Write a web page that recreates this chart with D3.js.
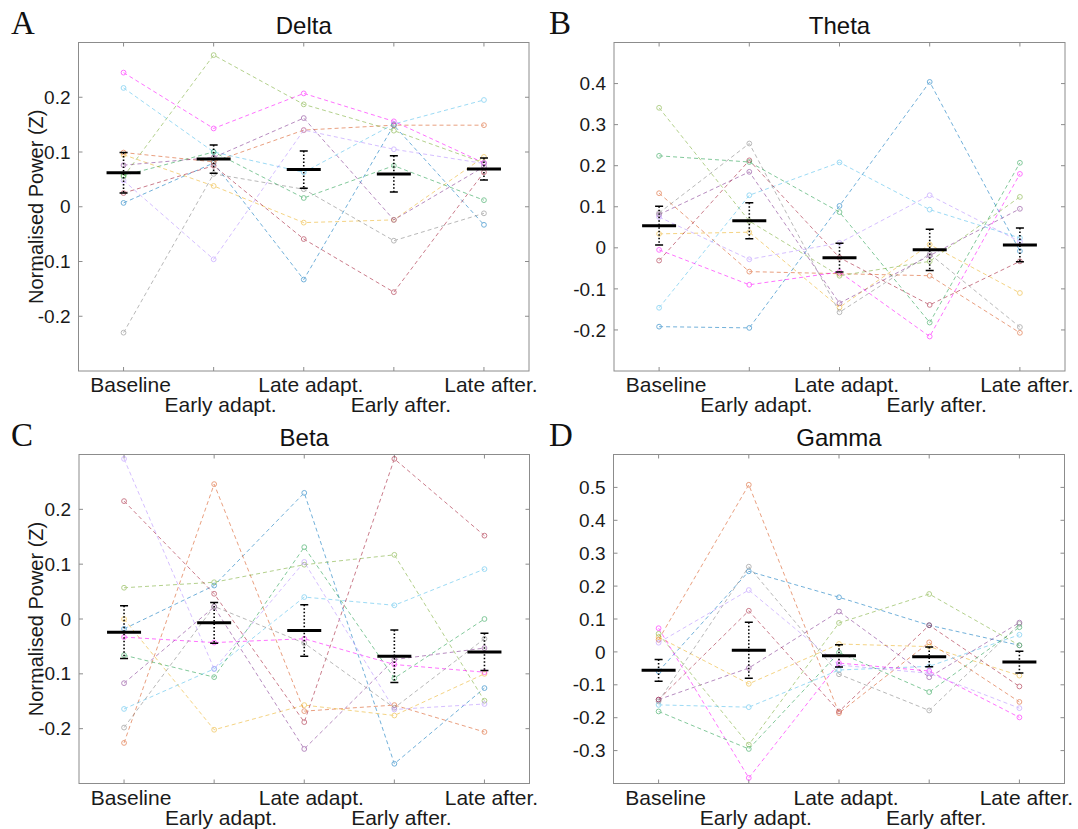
<!DOCTYPE html>
<html>
<head>
<meta charset="utf-8">
<script src="https://cdn.jsdelivr.net/npm/d3@7"></script>
<style>
  body { margin: 0; background: #fff; }
  svg { display: block; font-family: "Liberation Sans", Arial, sans-serif; }
</style>
</head>
<body>
<svg width="1078" height="829"></svg>
<script>
// conditions on the x axis
const conditions = ["Baseline", "Early adapt.", "Late adapt.", "Early after.", "Late after."];

// one colour per subject
const subjectColors = ["#0072BD", "#D95319", "#EDB120", "#7E2F8E", "#77AC30", "#4DBEEE",
                       "#A2142F", "#FF00FF", "#808080", "#B58CFF", "#1E9E4A"];

// subject values, one row per subject (same order as the colours)
const delta = [
  [0.007, 0.080, -0.133, 0.149, -0.033],
  [0.099, 0.082, 0.140, 0.149, 0.149],
  [0.095, 0.038, -0.029, -0.024, 0.091],
  [0.076, 0.090, 0.162, -0.024, 0.073],
  [0.055, 0.277, 0.187, 0.139, 0.080],
  [0.217, 0.100, 0.063, 0.151, 0.195],
  [0.025, 0.075, -0.059, -0.156, 0.063],
  [0.245, 0.143, 0.207, 0.156, 0.080],
  [-0.230, 0.060, 0.032, -0.062, -0.012],
  [0.048, -0.096, 0.140, 0.105, 0.079],
  [0.057, 0.100, 0.016, 0.075, 0.012]
];
const theta = [
  [-0.192, -0.195, 0.102, 0.404, -0.008],
  [0.133, -0.058, -0.063, -0.068, -0.207],
  [0.034, 0.038, -0.145, 0.008, -0.110],
  [0.081, 0.185, -0.135, -0.019, 0.095],
  [0.341, 0.065, -0.068, -0.033, 0.124],
  [-0.146, 0.128, 0.208, 0.093, 0.024],
  [-0.031, 0.213, -0.024, -0.139, -0.033],
  [-0.005, -0.090, -0.059, -0.216, 0.180],
  [0.085, 0.254, -0.157, -0.015, -0.193],
  [0.075, -0.028, 0.012, 0.128, 0.015],
  [0.224, 0.209, 0.087, -0.182, 0.207]
];
const beta = [
  [-0.018, 0.061, 0.230, -0.264, -0.126],
  [-0.226, 0.246, -0.168, -0.157, -0.206],
  [0.000, -0.202, -0.157, -0.176, -0.100],
  [-0.117, 0.022, -0.237, -0.074, -0.053],
  [0.057, 0.067, 0.099, 0.117, -0.149],
  [-0.164, -0.091, 0.040, 0.025, 0.091],
  [0.215, 0.046, -0.188, 0.292, 0.152],
  [-0.033, -0.043, -0.036, -0.083, -0.097],
  [-0.198, 0.023, -0.044, -0.162, -0.036],
  [0.292, -0.091, 0.104, -0.165, -0.155],
  [-0.066, -0.106, 0.131, -0.108, 0.000]
];
const gamma = [
  [-0.059, 0.245, 0.166, 0.081, 0.020],
  [0.037, 0.508, -0.186, 0.029, -0.152],
  [0.045, -0.097, 0.024, 0.016, -0.072],
  [-0.145, -0.049, 0.123, -0.077, 0.089],
  [0.055, -0.282, 0.088, 0.176, 0.020],
  [-0.161, -0.168, -0.055, -0.044, 0.052],
  [-0.145, 0.125, -0.181, 0.081, -0.105],
  [0.072, -0.383, -0.034, -0.058, -0.199],
  [-0.150, 0.259, -0.068, -0.178, 0.085],
  [0.028, 0.188, -0.040, -0.065, -0.171],
  [-0.181, -0.295, -0.002, -0.122, 0.075]
];

// group means and error half-widths
const deltaMean = [0.062, 0.087, 0.068, 0.060, 0.069];
const deltaErr  = [0.037, 0.026, 0.034, 0.033, 0.020];
const thetaMean = [0.054, 0.066, -0.024, -0.005, 0.007];
const thetaErr  = [0.047, 0.044, 0.035, 0.050, 0.041];
const betaMean  = [-0.024, -0.007, -0.021, -0.068, -0.060];
const betaErr   = [0.048, 0.037, 0.047, 0.048, 0.034];
const gammaMean = [-0.056, 0.005, -0.012, -0.015, -0.031];
const gammaErr  = [0.033, 0.085, 0.034, 0.030, 0.033];

// y tick values for each panel
const deltaTicks = [-0.2, -0.1, 0, 0.1, 0.2];
const thetaTicks = [-0.2, -0.1, 0, 0.1, 0.2, 0.3, 0.4];
const betaTicks  = [-0.2, -0.1, 0, 0.1, 0.2];
const gammaTicks = [-0.3, -0.2, -0.1, 0, 0.1, 0.2, 0.3, 0.4, 0.5];

const panels = [
  {letter: "A", title: "Delta", values: delta, mean: deltaMean, err: deltaErr, ticks: deltaTicks,
   domain: [-0.3, 0.3], left: 78.5, top: 42.5, w: 450.5, h: 328.5, ylabel: true},
  {letter: "B", title: "Theta", values: theta, mean: thetaMean, err: thetaErr, ticks: thetaTicks,
   domain: [-0.3, 0.5], left: 614, top: 42.5, w: 451, h: 328.5, ylabel: false},
  {letter: "C", title: "Beta", values: beta, mean: betaMean, err: betaErr, ticks: betaTicks,
   domain: [-0.3, 0.3], left: 79, top: 454.5, w: 450.5, h: 329, ylabel: true},
  {letter: "D", title: "Gamma", values: gamma, mean: gammaMean, err: gammaErr, ticks: gammaTicks,
   domain: [-0.4, 0.6], left: 613.5, top: 454.5, w: 451, h: 329, ylabel: false}
];

const svg = d3.select("svg");
const fmt = d => String(+d.toFixed(1));

panels.forEach(p => {
  const g = svg.append("g").attr("transform", `translate(${p.left},${p.top})`);

  const x = d3.scalePoint().domain(conditions).range([0, p.w]).padding(0.5);
  const y = d3.scaleLinear().domain(p.domain).range([p.h, 0]);

  // box
  g.append("rect")
    .attr("width", p.w).attr("height", p.h)
    .attr("fill", "none").attr("stroke", "#8c8c8c").attr("stroke-width", 1);

  // inside ticks: bottom/top at conditions, left/right at y ticks
  const tk = 4;
  g.selectAll(".xt").data(conditions).join("path")
    .attr("d", d => `M${x(d)},${p.h}v${-tk}M${x(d)},0v${tk}`)
    .attr("stroke", "#8c8c8c");
  g.selectAll(".yt").data(p.ticks).join("path")
    .attr("d", d => `M0,${y(d)}h${tk}M${p.w},${y(d)}h${-tk}`)
    .attr("stroke", "#8c8c8c");

  // y tick labels
  g.selectAll(".yl").data(p.ticks).join("text")
    .attr("x", -8).attr("y", d => y(d))
    .attr("dy", "0.35em")
    .attr("text-anchor", "end")
    .attr("font-size", 19)
    .attr("fill", "#1a1a1a")
    .text(fmt);

  // x labels, alternating rows
  g.selectAll(".xl").data(conditions).join("text")
    .attr("x", d => x(d) + 7)
    .attr("y", (d, i) => p.h + (i % 2 === 0 ? 21 : 41))
    .attr("text-anchor", "middle")
    .attr("font-size", 21)
    .attr("fill", "#1a1a1a")
    .text(d => d);

  // title
  svg.append("text")
    .attr("x", p.left + p.w / 2)
    .attr("y", p.top - 8.5)
    .attr("text-anchor", "middle")
    .attr("font-size", 24)
    .attr("fill", "#111")
    .text(p.title);

  // panel letter
  svg.append("text")
    .attr("x", p.left < 300 ? 11 : 549)
    .attr("y", p.top - 9)
    .attr("font-family", "'Liberation Serif', 'Times New Roman', serif")
    .attr("font-size", 33)
    .attr("fill", "#111")
    .text(p.letter);

  if (p.ylabel) {
    svg.append("text")
      .attr("transform", `translate(43,${p.top + p.h / 2}) rotate(-90)`)
      .attr("text-anchor", "middle")
      .attr("font-size", 20)
      .attr("fill", "#1a1a1a")
      .text("Normalised Power (Z)");
  }

  // subject lines
  const line = d3.line().x((d, i) => x(conditions[i])).y(d => y(d));
  const subj = g.selectAll(".subj").data(p.values).join("g")
    .attr("opacity", 0.55);
  subj.append("path")
    .attr("d", d => line(d))
    .attr("fill", "none")
    .attr("stroke", (d, i) => subjectColors[i])
    .attr("stroke-width", 1)
    .attr("stroke-dasharray", "4,3");
  subj.each(function(row, si) {
    d3.select(this).selectAll("circle").data(row).join("circle")
      .attr("cx", (d, i) => x(conditions[i]))
      .attr("cy", d => y(d))
      .attr("r", 2.4)
      .attr("fill", "none")
      .attr("stroke", subjectColors[si])
      .attr("stroke-width", 1);
  });

  // error bars (dotted) and means
  const stats = conditions.map((c, i) => ({c, m: p.mean[i], e: p.err[i]}));
  g.selectAll(".eb").data(stats).join("path")
    .attr("d", d => `M${x(d.c)},${y(d.m + d.e)}V${y(d.m - d.e)}`)
    .attr("stroke", "#000").attr("stroke-width", 1.6)
    .attr("stroke-dasharray", "1.5,2");
  g.selectAll(".cap").data(stats).join("path")
    .attr("d", d => `M${x(d.c) - 4},${y(d.m + d.e)}h8M${x(d.c) - 4},${y(d.m - d.e)}h8`)
    .attr("stroke", "#000").attr("stroke-width", 1.5);
  g.selectAll(".mean").data(stats).join("line")
    .attr("x1", d => x(d.c) - 17).attr("x2", d => x(d.c) + 17)
    .attr("y1", d => y(d.m)).attr("y2", d => y(d.m))
    .attr("stroke", "#000").attr("stroke-width", 3);
});
</script>
</body>
</html>
